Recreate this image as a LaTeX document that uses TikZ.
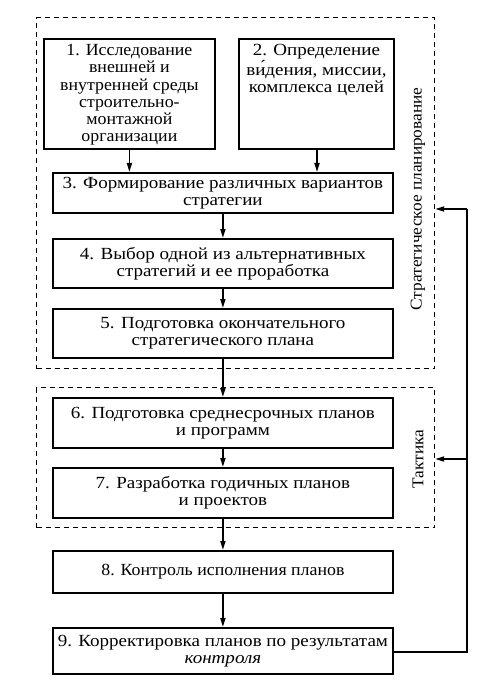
\documentclass[tikz,border=0pt]{standalone}
\usepackage{fontspec}
\setmainfont{Liberation Serif}[FakeStretch=1.05]
\newfontfamily\widefont{Liberation Serif}[FakeStretch=1.12]
\usetikzlibrary{arrows.meta}
\begin{document}
\begin{tikzpicture}[x=1pt,y=-1pt,
  every node/.style={font=\fontsize{17}{17.3}\selectfont},
  stepbox/.style={draw, line width=1.8pt, align=center, inner sep=0pt, anchor=north west},
  wide/.style={stepbox, minimum width=340pt, font=\widefont\fontsize{17}{17.3}\selectfont},
  txt/.style={align=center, inner sep=0pt, anchor=north},
  zone/.style={draw, line width=1.2pt, dash pattern=on 5pt off 4pt, inner sep=0pt, anchor=north west, minimum width=398pt},
  flow/.style={line width=1.6pt, -{Triangle[length=9pt,width=5pt]}},
  fb/.style={line width=1.8pt},
  zlabel/.style={rotate=90, inner sep=0pt, font=\fontsize{16.5}{17}\selectfont}
]
\useasboundingbox (0,0) rectangle (480,687);

% dashed zones
\node[zone, minimum height=351pt] (zs) at (36,17) {};
\node[zone, minimum height=140pt] (zt) at (36,387) {};
\node[zlabel] (ls) at (418,199) {Стратегическое планирование};
\node[zlabel] (lt) at (418,459) {Тактика};

% top boxes
\node[stepbox, minimum width=171pt, minimum height=110pt] (b1) at (43,38) {};
\node[txt] (t1) at ([yshift=-6pt]b1.north) {1. Исследование\\внешней и\\внутренней среды\\строительно-\\монтажной\\организации};
\node[stepbox, minimum width=155pt, minimum height=110pt] (b2) at (238,38) {};
\node[txt, font=\widefont\fontsize{17}{17.3}\selectfont] (t2) at ([yshift=-6pt]b2.north) {2. Определение\\ви́дения, миссии,\\комплекса целей};

% main column
\node[wide, minimum height=40pt] (b3) at (52,172) {3. Формирование различных вариантов\\стратегии};
\node[wide, minimum height=49pt] (b4) at (52,238) {4. Выбор одной из альтернативных\\стратегий и ее проработка};
\node[wide, minimum height=49pt] (b5) at (52,308) {5. Подготовка окончательного\\стратегического плана};
\node[wide, minimum height=50pt] (b6) at (52,397) {6. Подготовка среднесрочных планов\\и программ};
\node[wide, minimum height=50pt] (b7) at (52,467) {7. Разработка годичных планов\\и проектов};
\node[stepbox, minimum width=340pt, minimum height=42pt] (b8) at (52,550) {8. Контроль исполнения планов};
\node[wide, minimum height=46pt] (b9) at (52,627) {9. Корректировка планов по результатам\\\textit{контроля}};

% arrows
\draw[flow] (b1.south) -- (b1.south |- b3.north);
\draw[flow] (b2.south -| 317,0) -- (317,0 |- b3.north);
\draw[flow] (b3.south) -- (b4.north);
\draw[flow] (b4.south) -- (b5.north);
\draw[flow] (b5.south) -- (b6.north);
\draw[flow] (b6.south) -- (b7.north);
\draw[flow] (b7.south) -- (b8.north);
\draw[flow] (b8.south) -- (b9.north);

% feedback
\coordinate (fr) at (467,652);
\coordinate (ft) at (467,209);
\coordinate (fm) at (467,459);
\draw[fb] (b9.east |- fr) -- (fr) -- (ft);
\draw[flow, line width=1.8pt] (ft) -- (zs.east |- ft);
\draw[flow, line width=1.8pt] (fm) -- (zt.east |- fm);
\end{tikzpicture}
\end{document}
